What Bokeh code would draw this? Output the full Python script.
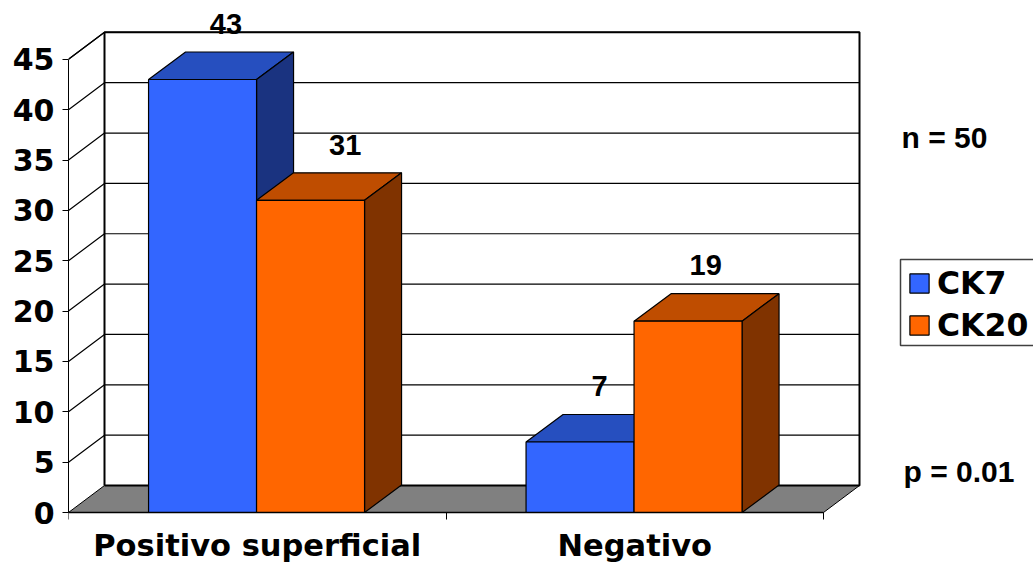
from bokeh.embed import file_html
from bokeh.resources import INLINE
from bokeh.plotting import figure
from bokeh.models import FixedTicker, Label, Legend, LegendItem, Range1d

categories = ["Positivo superficial", "Negativo"]
series_names = ["CK7", "CK20"]
ck7_values = [43, 7]
ck20_values = [31, 19]
y_ticks = [0, 5, 10, 15, 20, 25, 30, 35, 40, 45]
label_shift = [[0.06, 0.09], [0.05, 0.045]]

PX_X = 377.5   # pixels per category
PX_Y = 10.07   # pixels per value unit
WIDTH, HEIGHT, LEFT, BOTTOM = 1033, 564, 68, 52

DX_WALL = 36 / PX_X
DY_WALL = 27 / PX_Y
DX_BAR = 37 / PX_X
DY_BAR = 27.5 / PX_Y
BAR_W = 108 / PX_X
CENTER_SHIFT = -0.7 / PX_X
Y_MAX = y_ticks[-1]
N_CAT = len(categories)

AXIS_FONT = "DejaVu Sans"
NOTE_FONT = "Liberation Sans"


def page_x(px):
    return (px - LEFT) / PX_X


def page_y(py):
    return (HEIGHT - BOTTOM - py) / PX_Y


p = figure(
    width=WIDTH, height=HEIGHT, output_backend="svg", toolbar_location=None,
    x_range=Range1d(0, (WIDTH - LEFT) / PX_X),
    y_range=Range1d(-BOTTOM / PX_Y, (HEIGHT - BOTTOM) / PX_Y),
    min_border_left=LEFT, min_border_bottom=0,
    min_border_top=0, min_border_right=0,
)
p.outline_line_color = None
p.grid.visible = False

# y axis on the front-left edge
ya = p.yaxis[0]
ya.ticker = FixedTicker(ticks=y_ticks)
ya.bounds = (0, Y_MAX)
ya.major_tick_out = 6
ya.major_tick_in = 0
ya.minor_tick_out = 0
ya.minor_tick_in = 0
ya.major_label_standoff = 8
ya.major_label_text_font = AXIS_FONT
ya.major_label_text_font_style = "bold"
ya.major_label_text_font_size = "30px"
ya.major_label_text_color = "#000000"
ya.axis_line_width = 1

# x axis pinned to y = 0: names centred on categories, ticks on their boundaries
xa = p.xaxis[0]
xa.fixed_location = 0
xa.ticker = FixedTicker(ticks=[i + 0.5 for i in range(N_CAT)],
                        minor_ticks=list(range(N_CAT + 1)))
xa.major_label_overrides = {i + 0.5: c for i, c in enumerate(categories)}
xa.bounds = (0, N_CAT)
xa.major_tick_out = 0
xa.major_tick_in = 0
xa.minor_tick_out = 7
xa.minor_tick_in = 0
xa.major_label_standoff = 8
xa.major_label_text_font = AXIS_FONT
xa.major_label_text_font_style = "bold"
xa.major_label_text_font_size = "30.5px"
xa.major_label_text_color = "#000000"
xa.axis_line_width = 1.5

# floor
p.patch([0, N_CAT, N_CAT + DX_WALL, DX_WALL], [0, 0, DY_WALL, DY_WALL],
        fill_color="#808080", line_color="#000000", line_width=1)

# gridlines across the back wall and the side wall
for v in y_ticks[1:]:
    p.line([0, DX_WALL, N_CAT + DX_WALL], [v, v + DY_WALL, v + DY_WALL],
           line_color="#000000", line_width=1.2)

# back wall frame
p.line([DX_WALL, DX_WALL, N_CAT + DX_WALL, N_CAT + DX_WALL, DX_WALL],
       [DY_WALL, Y_MAX + DY_WALL, Y_MAX + DY_WALL, DY_WALL, DY_WALL],
       line_color="#000000", line_width=2)
p.line([0, DX_WALL], [Y_MAX, Y_MAX + DY_WALL], line_color="#000000", line_width=1.2)


def draw_bar(x0, v, front, top, side):
    x1 = x0 + BAR_W
    p.patch([x0, x0 + DX_BAR, x1 + DX_BAR, x1], [v, v + DY_BAR, v + DY_BAR, v],
            fill_color=top, line_color="#000000", line_width=1.2)
    p.patch([x1, x1 + DX_BAR, x1 + DX_BAR, x1], [0, DY_BAR, v + DY_BAR, v],
            fill_color=side, line_color="#000000", line_width=1.2)
    return p.quad(left=x0, right=x1, bottom=0, top=v, fill_color=front,
                  line_color="#000000", line_width=1.2)


legend_marks = {}
for i in range(N_CAT):
    c = i + 0.5 + CENTER_SHIFT
    legend_marks["CK7"] = draw_bar(c - BAR_W, ck7_values[i], "#3366ff", "#264fbf", "#1a3380")
    legend_marks["CK20"] = draw_bar(c, ck20_values[i], "#ff6600", "#bf4d00", "#803300")

# value labels above each bar
for i in range(N_CAT):
    c = i + 0.5
    for j, vals in enumerate((ck7_values, ck20_values)):
        v = vals[i]
        x = c - BAR_W + j * BAR_W + BAR_W / 2 + label_shift[i][j]
        p.add_layout(Label(x=x, y=v + DY_BAR + 2.8, text=str(v),
                           text_font=NOTE_FONT, text_font_style="bold",
                           text_font_size="29px", text_color="#000000",
                           text_align="center", text_baseline="middle"))

# side notes
for text, px, py in (("n = 50", 901, 137), ("p = 0.01", 903, 471)):
    p.add_layout(Label(x=page_x(px), y=page_y(py), text=text,
                       text_font=NOTE_FONT, text_font_style="bold",
                       text_font_size="30px", text_color="#000000",
                       text_align="left", text_baseline="middle"))

# legend frame runs past the right edge of the page
p.quad(left=page_x(900), right=page_x(1045), top=page_y(259), bottom=page_y(345),
       fill_color="#ffffff", line_color="#404040", line_width=1.5)

legend = Legend(
    items=[LegendItem(label=s, renderers=[legend_marks[s]]) for s in series_names],
    location=(907 - LEFT, HEIGHT - 343),
    orientation="vertical",
    background_fill_alpha=0,
    border_line_color=None,
    label_text_font=AXIS_FONT, label_text_font_style="bold",
    label_text_font_size="31.5px", label_text_color="#000000",
    glyph_width=24, glyph_height=24,
    label_standoff=6, spacing=6, padding=10, margin=0,
)
p.add_layout(legend, "center")

open("out.html", "w").write(file_html(p, INLINE))
